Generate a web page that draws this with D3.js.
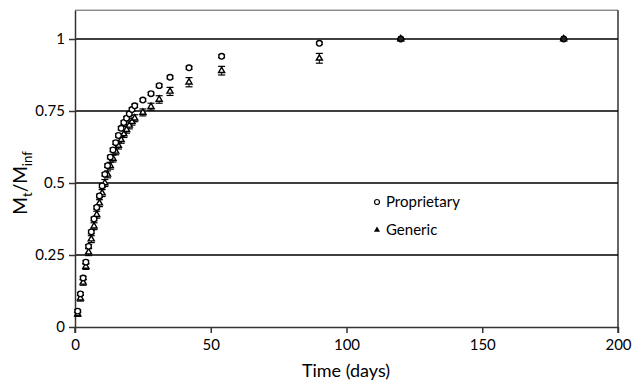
<!DOCTYPE html>
<html>
<head>
  <meta charset="utf-8">
  <title>Release profile</title>
  <script src="https://d3js.org/d3.v7.min.js"></script>
  <style>
    body { margin: 0; background: #fff; }
    text { font-family: Lato, "Open Sans", sans-serif; fill: #000; }
  </style>
</head>
<body>
<script>
// data
var days = [1,2,3,4,5,6,7,8,9,10,11,12,13,14,15,16,17,18,19,20,21,22,25,28,31,35,42,54,90,120,180];
var proprietary = [0.055,0.115,0.17,0.225,0.28,0.33,0.375,0.415,0.455,0.49,0.53,0.56,0.59,0.615,0.64,0.665,0.69,0.71,0.725,0.74,0.755,0.768,0.788,0.81,0.838,0.867,0.90,0.94,0.985,1.0,1.0];
var proprietarySd = [0.005,0.005,0.006,0.006,0.006,0.006,0.006,0.006,0.006,0.006,0.006,0.006,0.006,0.006,0.006,0.006,0.006,0.006,0.006,0.006,0.006,0.006,0.005,0.005,0.005,0.005,0.005,0.005,0.004,0,0];
var generic = [0.045,0.10,0.155,0.21,0.26,0.305,0.35,0.39,0.43,0.465,0.50,0.53,0.56,0.585,0.61,0.63,0.65,0.67,0.685,0.70,0.713,0.725,0.745,0.765,0.79,0.818,0.85,0.89,0.933,1.0,1.0];
var genericSd = [0.008,0.01,0.01,0.01,0.012,0.012,0.012,0.012,0.012,0.012,0.012,0.012,0.012,0.012,0.012,0.012,0.012,0.012,0.012,0.012,0.012,0.012,0.012,0.012,0.013,0.014,0.016,0.015,0.017,0,0];
var xTicks = [0,50,100,150,200];
var yTicks = [0,0.25,0.5,0.75,1];
var yTickLabels = ["0","0.25","0.5","0.75","1"];
var seriesNames = ["Proprietary","Generic"];

var width = 632, height = 383;
var plotLeft = 75, plotRight = 618, plotTop = 10.2, plotBottom = 327;

var svg = d3.select("body").append("svg")
    .attr("width", width)
    .attr("height", height);

var x = d3.scaleLinear().domain([0,200]).range([plotLeft,plotRight]);
var y = d3.scaleLinear().domain([0,1.1]).range([plotBottom,plotTop]);

// top and right frame
svg.append("line").attr("x1", plotLeft).attr("x2", plotRight).attr("y1", plotTop).attr("y2", plotTop)
    .attr("stroke", "#555").attr("stroke-width", 1);
svg.append("line").attr("x1", plotRight).attr("x2", plotRight).attr("y1", plotTop).attr("y2", plotBottom + 6)
    .attr("stroke", "#333").attr("stroke-width", 1.5);

// gridlines
svg.selectAll(".grid").data(yTicks.filter(function(d){return d > 0;})).enter().append("line")
    .attr("x1", plotLeft).attr("x2", plotRight)
    .attr("y1", function(d){return y(d);}).attr("y2", function(d){return y(d);})
    .attr("stroke", "#000").attr("stroke-width", 1.5);

// axes
var xAxis = svg.append("g").attr("transform", "translate(0," + plotBottom + ")")
    .call(d3.axisBottom(x).tickValues(xTicks).tickSize(6).tickSizeOuter(0).tickFormat(d3.format("d")));
var yAxis = svg.append("g").attr("transform", "translate(" + plotLeft + ",0)")
    .call(d3.axisLeft(y).tickValues(yTicks).tickSize(6).tickSizeOuter(0)
      .tickFormat(function(d,i){return yTickLabels[i];}));

[xAxis, yAxis].forEach(function(g){
  g.select(".domain").attr("stroke", "#333").attr("stroke-width", 1.5);
  g.selectAll(".tick line").attr("stroke", "#333").attr("stroke-width", 1.5);
  g.selectAll(".tick text").attr("font-family", "Lato, sans-serif").attr("font-size", 15).attr("fill", "#000");
});
xAxis.selectAll(".tick text").attr("dy", "0.95em");
yAxis.selectAll(".tick text").attr("x", -10);
// y axis extends a little below zero
svg.append("line").attr("x1", plotLeft).attr("x2", plotLeft).attr("y1", plotBottom).attr("y2", plotBottom + 6)
    .attr("stroke", "#333").attr("stroke-width", 1.5);

// error bars
function errorBars(vals, sds, cls) {
  var g = svg.append("g").attr("class", cls);
  g.selectAll("line.v").data(days).enter().append("line")
      .attr("x1", function(d){return x(d);}).attr("x2", function(d){return x(d);})
      .attr("y1", function(d,i){return y(vals[i] - sds[i]);})
      .attr("y2", function(d,i){return y(vals[i] + sds[i]);})
      .attr("stroke", "#000").attr("stroke-width", 1);
  [-1, 1].forEach(function(s){
    g.selectAll("line.c" + s).data(days).enter().append("line")
        .attr("x1", function(d){return x(d) - 3.5;}).attr("x2", function(d){return x(d) + 3.5;})
        .attr("y1", function(d,i){return y(vals[i] + s * sds[i]);})
        .attr("y2", function(d,i){return y(vals[i] + s * sds[i]);})
        .attr("stroke", "#000").attr("stroke-width", 1.2);
  });
}
errorBars(generic, genericSd, "generr");
errorBars(proprietary, proprietarySd, "properr");

var tri = d3.symbol().type(d3.symbolTriangle).size(16);

// generic triangles
svg.selectAll(".gen").data(days).enter().append("path")
    .attr("d", tri)
    .attr("transform", function(d,i){return "translate(" + x(d) + "," + y(generic[i]) + ")";})
    .attr("fill", "#fff").attr("stroke", "#000").attr("stroke-width", 1.4);

// proprietary circles
svg.selectAll(".prop").data(days).enter().append("circle")
    .attr("cx", function(d){return x(d);})
    .attr("cy", function(d,i){return y(proprietary[i]);})
    .attr("r", 2.8)
    .attr("fill", function(d,i){return proprietary[i] === generic[i] ? "#222" : "#fff";})
    .attr("stroke", "#000").attr("stroke-width", 1.3);

// legend
var leg = svg.append("g").attr("transform", "translate(377,202)");
leg.append("circle").attr("cx", 0).attr("cy", 0).attr("r", 2.5)
    .attr("fill", "#fff").attr("stroke", "#000").attr("stroke-width", 1.2);
leg.append("path").attr("d", d3.symbol().type(d3.symbolTriangle).size(16))
    .attr("transform", "translate(0,28)").attr("fill", "#000");
leg.selectAll("text").data(seriesNames).enter().append("text")
    .attr("x", 9).attr("y", function(d,i){return i * 28;})
    .attr("dy", "0.35em").attr("font-size", 15)
    .text(function(d){return d;});

// axis titles
svg.append("text").attr("x", 346).attr("y", 377).attr("text-anchor", "middle")
    .attr("font-size", 18).text("Time (days)");

var yt = svg.append("text").attr("transform", "translate(27,183) rotate(-90)")
    .attr("text-anchor", "middle").attr("font-size", 19);
yt.append("tspan").text("M");
yt.append("tspan").attr("font-size", 13).attr("dy", 5).text("t");
yt.append("tspan").attr("dy", -5).text("/M");
yt.append("tspan").attr("font-size", 13).attr("dy", 5).text("inf");
</script>
</body>
</html>
